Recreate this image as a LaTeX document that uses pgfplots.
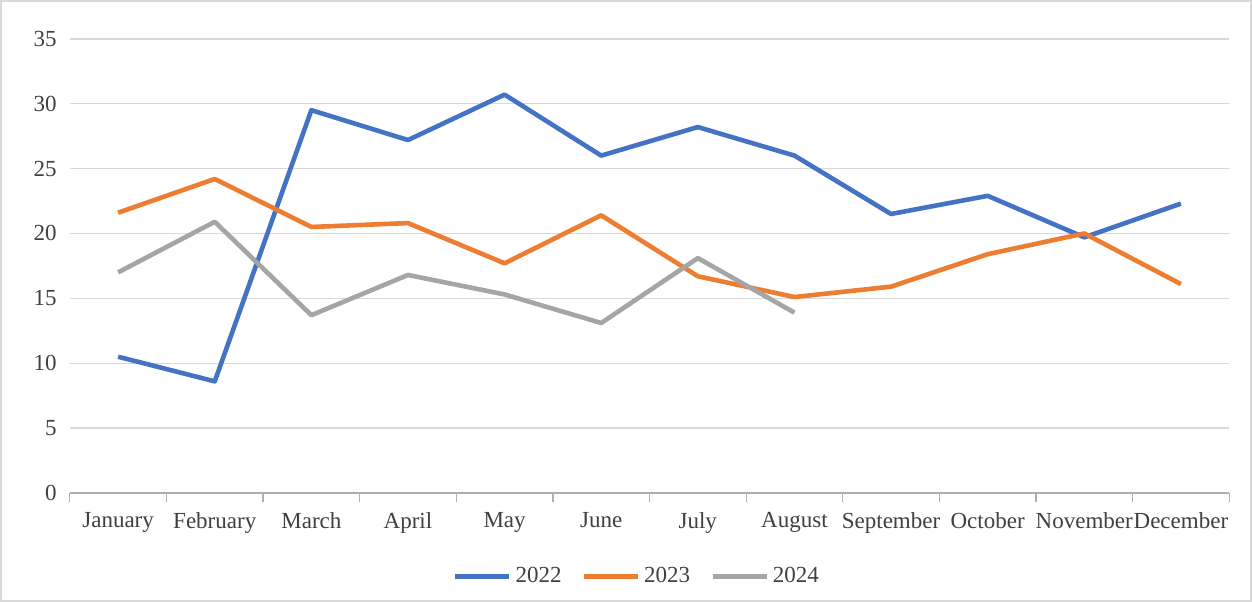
\documentclass[border=0pt]{standalone}
\usepackage{pgfplots}
\pgfplotsset{compat=1.18}
\usepackage{fontspec}
\setmainfont{Liberation Serif}
\definecolor{c22}{HTML}{4472C4}
\definecolor{c23}{HTML}{ED7D31}
\definecolor{c24}{HTML}{A5A5A5}
\definecolor{gridc}{HTML}{D9D9D9}
\begin{document}
\begin{tikzpicture}
\draw[gridc, line width=0.8pt] (-34.5pt,-54pt) rectangle (590.5pt,246pt);
\begin{axis}[
  at={(0,0)}, anchor=south west,
  scale only axis, width=579.5pt, height=227pt,
  xmin=-0.5, xmax=11.5, ymin=0, ymax=35,
  ytick={0,5,...,35},
  xtick={0,...,11},
  xticklabels={January,February,March,April,May,June,July,August,September,October,November,December},
  minor xtick={-0.5,0.5,...,11.5},
  major tick length=0pt,
  minor tick length=4.5pt,
  tick align=outside,
  xtick style={draw=none},
  minor x tick style={draw=gridc!80!black, line width=0.6pt},
  ytick style={draw=none},
  ymajorgrids, grid style={gridc, line width=0.7pt},
  axis x line*=bottom, axis y line*=left,
  y axis line style={draw=none},
  x axis line style={gridc!80!black, line width=0.7pt, -},
  tick label style={font=\fontsize{11.5}{13}\selectfont, text=black!75},
  xticklabel style={yshift=-6pt},
  yticklabel style={xshift=-3pt},
  /pgf/number format/assume math mode=true,
  legend style={at={(0.49,-0.145)}, anchor=north, draw=none, legend columns=3,
    font=\fontsize{11.5}{13}\selectfont, text=black!75,
    /tikz/every even column/.append style={column sep=8pt}},
  legend image code/.code={\draw[#1, line width=2.3pt] (0pt,0pt) -- (27pt,0pt);},
  every axis plot/.append style={line width=2.3pt, line join=round},
]
\addplot[c22, mark=none] coordinates {(0,10.5)(1,8.6)(2,29.5)(3,27.2)(4,30.7)(5,26.0)(6,28.2)(7,26.0)(8,21.5)(9,22.9)(10,19.7)(11,22.3)};
\addlegendentry{2022}
\addplot[c23, mark=none] coordinates {(0,21.6)(1,24.2)(2,20.5)(3,20.8)(4,17.7)(5,21.4)(6,16.7)(7,15.1)(8,15.9)(9,18.4)(10,20.0)(11,16.1)};
\addlegendentry{2023}
\addplot[c24, mark=none] coordinates {(0,17.0)(1,20.9)(2,13.7)(3,16.8)(4,15.3)(5,13.1)(6,18.1)(7,13.9)};
\addlegendentry{2024}
\end{axis}
\end{tikzpicture}
\end{document}
